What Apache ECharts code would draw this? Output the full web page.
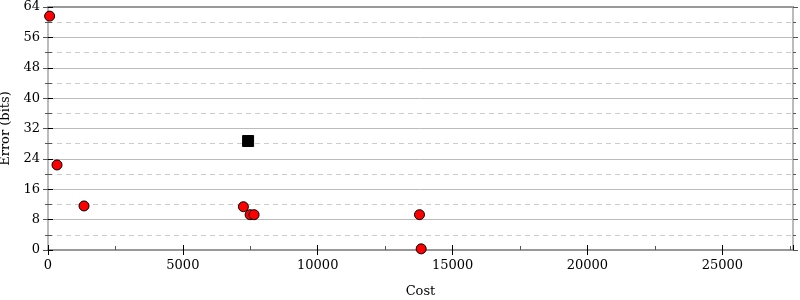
<!DOCTYPE html>
<html><head><meta charset="utf-8">
<script src="https://cdn.jsdelivr.net/npm/echarts@6/dist/echarts.min.js"></script>
<style>html,body{margin:0;padding:0;background:#fff}#c{width:800px;height:300px}</style>
</head><body><div id="c"></div>
<script>
const redCost = [60, 334, 1335, 7244, 7493, 7641, 13773, 13835];
const redError = [61.6, 22.4, 11.6, 11.4, 9.3, 9.3, 9.3, 0.3];
const squareCost = [7418];
const squareError = [28.7];
const xMax = 27620;
const yMax = 64;

const font = 'DejaVu Serif';
const chart = echarts.init(document.getElementById('c'), null, {renderer: 'canvas'});
const plain = v => String(v);

function yAx(extra) {
  return Object.assign({
    type: 'value', min: 0, max: yMax, interval: 8,
    axisLine: {show: false}, axisLabel: {show: false}, splitLine: {show: false},
    axisTick: {show: false}, minorTick: {show: false}
  }, extra);
}
function xAx(extra) {
  return Object.assign({
    type: 'value', min: 0, max: xMax, interval: 5000,
    axisLine: {show: false}, axisLabel: {show: false}, splitLine: {show: false},
    axisTick: {show: false}, minorTick: {show: false}
  }, extra);
}

chart.setOption({
  animation: false,
  grid: {left: 48, right: 7, top: 7, bottom: 50, containLabel: false, outerBoundsMode: 'none'},
  xAxis: [
    xAx({
      position: 'bottom',
      name: 'Cost', nameLocation: 'middle', nameGap: 35,
      nameTextStyle: {fontFamily: font, fontSize: 13, color: '#000'},
      axisLine: {show: true, onZero: false, lineStyle: {color: '#999', width: 2}},
      axisLabel: {show: true, fontFamily: font, fontSize: 13, color: '#000', margin: 9,
        showMaxLabel: false, formatter: plain},
      axisTick: {show: true, inside: false, length: 5, lineStyle: {color: '#000', width: 1}}
    }),
    xAx({
      position: 'bottom',
      axisTick: {show: true, inside: true, length: 5, lineStyle: {color: '#000', width: 1}},
      minorTick: {show: true, splitNumber: 2, length: 4, lineStyle: {color: '#555', width: 1}}
    }),
    xAx({
      position: 'top',
      axisLine: {show: true, onZero: false, lineStyle: {color: '#999', width: 2}}
    })
  ],
  yAxis: [
    yAx({
      position: 'left',
      name: 'Error (bits)', nameLocation: 'middle', nameGap: 31, nameRotate: 90,
      nameTextStyle: {fontFamily: font, fontSize: 13, color: '#000'},
      axisLine: {show: true, onZero: false, lineStyle: {color: '#bbb', width: 2}},
      axisLabel: {show: true, fontFamily: font, fontSize: 13, color: '#000', margin: 8, formatter: plain},
      axisTick: {show: true, inside: false, length: 5, lineStyle: {color: '#000', width: 1}},
      splitLine: {show: true, lineStyle: {color: '#bbb', width: 1}},
      minorSplitLine: {show: true, lineStyle: {color: '#ccc', width: 1, type: [5, 4]}},
      minorTick: {show: false, splitNumber: 2}
    }),
    yAx({
      position: 'left',
      axisTick: {show: true, inside: true, length: 5, lineStyle: {color: '#000', width: 1}},
      minorTick: {show: true, splitNumber: 2, length: 4, lineStyle: {color: '#555', width: 1}}
    }),
    yAx({
      position: 'right',
      axisLine: {show: true, onZero: false, lineStyle: {color: '#bbb', width: 2}},
      axisTick: {show: true, inside: false, length: 5, lineStyle: {color: '#555', width: 1}},
      minorTick: {show: true, splitNumber: 2, length: 3, lineStyle: {color: '#555', width: 1}}
    }),
    yAx({
      position: 'right',
      axisTick: {show: true, inside: true, length: 5, lineStyle: {color: '#555', width: 1}},
      minorTick: {show: true, splitNumber: 2, length: 3, lineStyle: {color: '#555', width: 1}}
    })
  ],
  series: [
    {
      type: 'scatter', xAxisIndex: 0, yAxisIndex: 0,
      symbol: 'rect', symbolSize: 11,
      itemStyle: {color: '#000', borderColor: '#000', borderWidth: 1, opacity: 1},
      data: squareCost.map((c, i) => [c, squareError[i]])
    },
    {
      type: 'scatter', xAxisIndex: 0, yAxisIndex: 0,
      symbol: 'circle', symbolSize: 10,
      itemStyle: {color: '#ff0000', borderColor: '#000', borderWidth: 1, opacity: 1},
      data: redCost.map((c, i) => [c, redError[i]])
    }
  ]
});
</script></body></html>
